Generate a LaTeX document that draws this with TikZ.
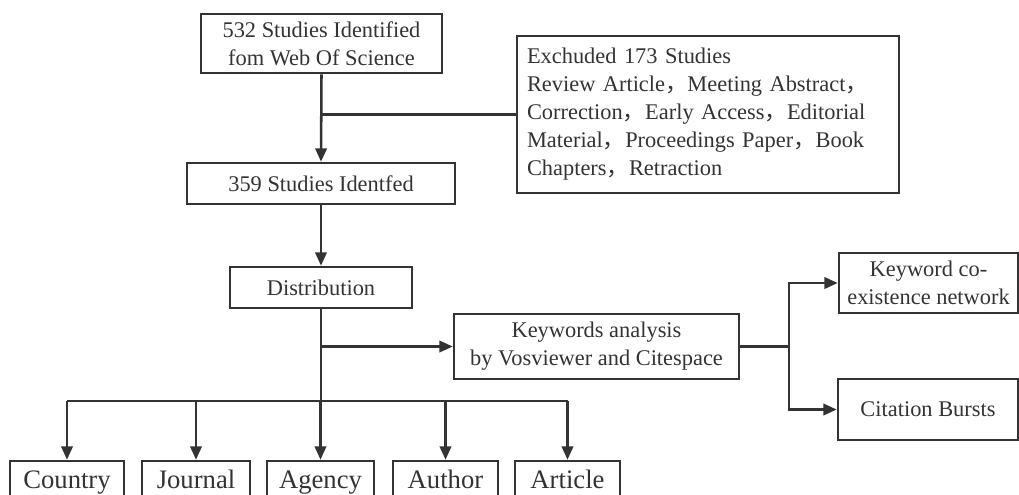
\documentclass[tikz,border=0pt]{standalone}
\usepackage{fontspec}
\setmainfont{Liberation Serif}
\newfontfamily\cjk{Noto Sans CJK SC}
\usetikzlibrary{arrows.meta}
\newcommand{\fc}{{\cjk ，}}
\definecolor{ink}{HTML}{333333}
\begin{document}
\begin{tikzpicture}[x=0.75pt,y=-0.75pt,
  every node/.style={font=\fontsize{16.8}{21}\selectfont, text=ink},
  box/.style={draw=ink, line width=1.9pt, rectangle, inner sep=0pt, align=center},
  leaf/.style={box, minimum width=#1*0.75pt, minimum height=41*0.75pt,
    text height=14.5pt, text depth=4.5pt, font=\fontsize{20}{24}\selectfont},
  ln/.style={draw=ink, line width=1.9pt},
  arr/.style={ln, -{Triangle[length=10pt,width=8.5pt]}}]
\path[use as bounding box] (0,0) rectangle (1019,494);
\clip (0,0) rectangle (1019,494);

\node[box, minimum width=241*0.75pt, minimum height=59*0.75pt] (b1) at (321.5,43.5)
  {532 Studies Identified\\fom Web Of Science};
\node[box, minimum width=382*0.75pt, minimum height=157*0.75pt, text width=362*0.75pt, align=left] (excl) at (708,114.5)
  {Exchuded 173 Studies\\
   Review Article\fc Meeting Abstract\fc\\
   Correction\fc Early Access\fc Editorial\\
   Material\fc Proceedings Paper\fc Book\\
   Chapters\fc Retraction};
\node[box, minimum width=268*0.75pt, minimum height=41*0.75pt] (b2) at (321,183.5) {359 Studies Identfed};
\node[box, minimum width=182*0.75pt, minimum height=41*0.75pt] (dist) at (321,287.5) {Distribution};
\node[box, minimum width=285*0.75pt, minimum height=65*0.75pt] (kw) at (596.5,346.5)
  {Keywords analysis\\by Vosviewer and Citespace};
\node[box, minimum width=179*0.75pt, minimum height=60*0.75pt] (kc) at (928.5,283)
  {Keyword co-\\existence network};
\node[box, minimum width=180*0.75pt, minimum height=61*0.75pt] (cb) at (928,409.5) {Citation Bursts};

\node[leaf=114] (country) at (67,481.5) {Country};
\node[leaf=108] (journal) at (196,481.5) {Journal};
\node[leaf=107] (agency) at (320.5,481.5) {Agency};
\node[leaf=105] (author) at (445.5,481.5) {Author};
\node[leaf=105] (article) at (567.5,481.5) {Article};

\coordinate (j1) at (321.5,114.5);
\coordinate (bus) at (321,401);
\coordinate (kj) at (789,346.5);

\draw[arr] (b1.south) -- (b2.north);
\draw[ln] (j1) -- (excl.west);
\draw[arr] (b2.south) -- (dist.north);
\draw[ln] (dist.south) -- (bus);
\draw[arr] (dist.south |- kw.west) -- (kw.west);
\draw[ln] (country.north |- bus) -- (article.north |- bus);
\foreach \n in {country,journal,agency,author,article}
  \draw[arr] (\n.north |- bus) -- (\n.north);
\draw[ln] (kw.east) -- (kj);
\draw[arr] (kj) |- (kc.west);
\draw[arr] (kj) |- (cb.west);
\end{tikzpicture}
\end{document}
